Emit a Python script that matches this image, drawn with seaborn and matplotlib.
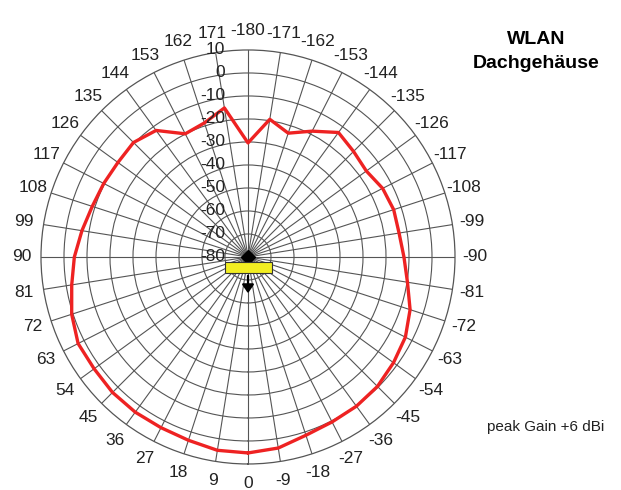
import numpy as np
import pandas as pd
import matplotlib
matplotlib.use("Agg")
import matplotlib.pyplot as plt
import seaborn as sns
from matplotlib.patches import Rectangle, FancyArrowPatch
from matplotlib.transforms import offset_copy

# ---- data -------------------------------------------------------------
# angle positions in degrees (0 at bottom, increasing clockwise, 180 on top)
angle_deg = list(range(0, 360, 9))
# gain (dB), in the order of angle_deg
gain_db = [5.2, 5.1, 3.8, 3.3, 3.4, 3.3, 2.7, 2.9, 0.6, -2.4,
           -4.5, -6.9, -8.8, -9.6, -10.1, -9.6, -12.0, -19.9, -18.7, -14.4,
           -30.4, -19.4, -23.4, -18.6, -13.1, -15.1, -16.4, -14.3, -13.4, -13.5,
           -12.2, -9.8, -5.9, -3.2, -1.8, -0.4, 0.2, 0.5, 1.5, 4.1]
angle_labels = [str(a) if a <= 171 else str(a - 360) for a in angle_deg]
ring_values = [10, 0, -10, -20, -30, -40, -50, -60, -70, -80]
ring_labels = [str(v) for v in ring_values]
title_lines = ["WLAN", "Dachgehäuse"]
note_text = "peak Gain +6 dBi"

# ---- figure -----------------------------------------------------------
sns.set_theme(style="white")
plt.rcParams["font.family"] = ["Liberation Sans", "DejaVu Sans"]

W, H = 621, 490
fig = plt.figure(figsize=(W / 100, H / 100), dpi=100)
ax = fig.add_axes([0.0660, 0.0531, 0.6667, 0.8449], projection="polar")

ax.set_theta_zero_location("S")
ax.set_theta_direction(-1)
ax.set_ylim(-80, 10)

df = pd.DataFrame({
    "theta": np.deg2rad(angle_deg + [angle_deg[0] + 360]),
    "gain": gain_db + [gain_db[0]],
})
sns.lineplot(data=df, x="theta", y="gain", sort=False, ax=ax,
             color="#ee2222", linewidth=2.4, zorder=5)
ax.set_xlabel("")
ax.set_ylabel("")

grid_col = "#555555"
ax.set_thetagrids(angle_deg, angle_labels, fontsize=12.5, color="#222222")
ax.set_yticks([v for v in ring_values if -80 < v < 10])
ax.set_yticklabels([])
ax.grid(True, color=grid_col, linewidth=0.8)
ax.spines["polar"].set_color(grid_col)
ax.spines["polar"].set_linewidth(0.9)
ax.tick_params(axis="x", pad=1)

# ring labels along the top spoke
trans = offset_copy(ax.transData, fig=fig, x=-23, y=0, units="dots")
for v, lab in zip(ring_values, ring_labels):
    ax.text(np.pi, v, lab, transform=trans, ha="right", va="center",
            fontsize=12.5, color="#222222", zorder=6)

# centre symbol: black diamond, yellow bar, downward arrow
def fx(px):
    return px / W

def fy(py):
    return (H - py) / H

ax.plot([0], [-80], marker="D", markersize=7, color="black", zorder=7)
fig.add_artist(Rectangle((fx(225), fy(273)), fx(272) - fx(225), fy(262) - fy(273),
                         transform=fig.transFigure, facecolor="#f2ee22",
                         edgecolor="#333333", linewidth=0.8, zorder=8))
fig.add_artist(FancyArrowPatch((fx(248), fy(273)), (fx(248), fy(296)),
                               transform=fig.transFigure,
                               arrowstyle="-|>,head_length=5,head_width=3.5",
                               color="black", linewidth=1.6, zorder=8))

# texts
fig.text(fx(536), fy(39), title_lines[0], ha="center", va="center",
         fontsize=14, fontweight="bold", color="black")
fig.text(fx(536), fy(63), title_lines[1], ha="center", va="center",
         fontsize=14, fontweight="bold", color="black")
fig.text(fx(487), fy(427), note_text, ha="left", va="center",
         fontsize=11, color="#222222")

fig.savefig("out.png", dpi=100)
